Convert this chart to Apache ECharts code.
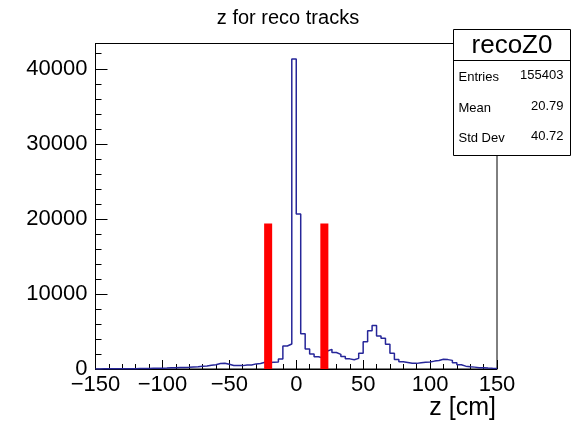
<!DOCTYPE html>
<html>
<head>
<meta charset="utf-8">
<script src="https://cdn.jsdelivr.net/npm/echarts@6/dist/echarts.min.js"></script>
<style>
  html, body { margin: 0; padding: 0; background: #fff; }
  #chart { width: 574px; height: 426px; }
</style>
</head>
<body>
<div id="chart"></div>
<script>
// Histogram of reconstructed track z (90 bins, -150..150 cm)
const binLow = -150;
const binHigh = 150;
const binCounts = [
  15, 20, 20, 25, 30, 30, 35, 40, 45, 55,
  60, 70, 85, 100, 115, 130, 150, 165, 185, 205,
  230, 270, 310, 360, 400, 490, 570, 720, 760, 620,
  470, 450, 450, 520, 530, 680, 720, 890, 870, 900,
  930, 1330, 3070, 3330, 41300, 20650, 4700, 2670, 2000, 1640,
  1470, 2400, 2620, 2200, 1950, 1650, 1350, 1230, 1420, 2090,
  3640, 5110, 5780, 4400, 4090, 3290, 2090, 1250, 970, 870,
  760, 750, 820, 890, 930, 1050, 1120, 1290, 1250, 1150,
  840, 560, 380, 300, 250, 180, 160, 120, 90, 80
];

// Red boxes marking the z window
const boxLow = [-24, 18];
const boxHigh = [-18, 24];
const boxTop = [19400, 19400];

// Axis ranges and ticks
const xMin = -150, xMax = 150, xMajor = 50, xMinor = 10;
const yMin = 0, yMajor = 10000, yMinor = 2000;
const yMax = Math.max(...binCounts) * 1.05;

// Stats box
const statsTitle = 'recoZ0';
const statsNames = ['Entries', 'Mean', 'Std Dev'];
const statsValues = ['155403', '20.79', '40.72'];

const titleText = 'z for reco tracks';
const xTitle = 'z [cm]';

const FONT = '"Liberation Sans", Arial, Helvetica, sans-serif';
const nBins = binCounts.length;
const binWidth = (binHigh - binLow) / nBins;

// Step outline points
const outline = [[binLow, 0]];
binCounts.forEach((v, i) => {
  outline.push([binLow + i * binWidth, v]);
  outline.push([binLow + (i + 1) * binWidth, v]);
});
outline.push([binHigh, 0]);

const boxData = boxLow.map((lo, i) => [lo, boxHigh[i], boxTop[i]]);

const minus = s => String(s).replace('-', '\u2212');

const chart = echarts.init(document.getElementById('chart'), null, { renderer: 'canvas' });

const gridL = 95.5, gridT = 43.5, gridR = 497, gridB = 369;

chart.setOption({
  animation: false,
  backgroundColor: '#ffffff',
  title: {
    text: titleText,
    left: 283,
    top: 3,
    textAlign: 'center',
    textStyle: { fontFamily: FONT, fontSize: 20, fontWeight: 'normal', color: '#000' }
  },
  grid: {
    left: gridL, top: gridT, right: 574 - gridR, bottom: 426 - gridB,
    show: true, borderColor: '#000', borderWidth: 1, backgroundColor: 'transparent'
  },
  xAxis: [
    {
      type: 'value', min: xMin, max: xMax, interval: xMajor, position: 'bottom',
      axisLine: { show: true, onZero: false, lineStyle: { color: '#000', width: 1 } },
      axisTick: { show: true, inside: true, length: 9, lineStyle: { color: '#000', width: 1 } },
      axisLabel: {
        show: true, margin: 5, fontFamily: FONT, fontSize: 22, color: '#000',
        formatter: v => minus(v)
      },
      splitLine: { show: false }
    },
    {
      type: 'value', min: xMin, max: xMax, interval: xMinor, position: 'bottom',
      axisLine: { show: false, onZero: false },
      axisTick: { show: true, inside: true, length: 5, lineStyle: { color: '#000', width: 1 } },
      axisLabel: { show: false },
      splitLine: { show: false }
    }
  ],
  yAxis: [
    {
      type: 'value', min: yMin, max: yMax, interval: yMajor, position: 'left',
      axisLine: { show: true, onZero: false, lineStyle: { color: '#000', width: 1 } },
      axisTick: { show: true, inside: true, length: 12, lineStyle: { color: '#000', width: 1 } },
      axisLabel: {
        show: true, margin: 8, fontFamily: FONT, fontSize: 22, color: '#000',
        showMaxLabel: false,
        formatter: v => (v % yMajor === 0 ? String(v) : '')
      },
      splitLine: { show: false }
    },
    {
      type: 'value', min: yMin, max: yMax, interval: yMinor, position: 'left', offset: 0,
      axisLine: { show: false, onZero: false },
      axisTick: { show: true, inside: true, length: 6, lineStyle: { color: '#000', width: 1 } },
      axisLabel: { show: false },
      splitLine: { show: false }
    }
  ],
  series: [
    {
      type: 'line',
      xAxisIndex: 0, yAxisIndex: 0,
      data: outline,
      showSymbol: false,
      symbol: 'none',
      lineStyle: { color: '#262699', width: 1.5 },
      z: 3
    },
    {
      type: 'custom',
      xAxisIndex: 0, yAxisIndex: 0,
      data: boxData,
      encode: { x: [0, 1], y: 2 },
      renderItem: (params, api) => {
        const p0 = api.coord([api.value(0), 0]);
        const p1 = api.coord([api.value(1), api.value(2)]);
        return {
          type: 'rect',
          shape: { x: p0[0], y: p1[1], width: p1[0] - p0[0], height: p0[1] - p1[1] },
          style: { fill: '#ff0000' }
        };
      },
      z: 4
    }
  ],
  graphic: [
    {
      type: 'text', right: 574 - gridR + 1, top: 396,
      style: { text: xTitle, fontFamily: FONT, fontSize: 25, fill: '#000', textAlign: 'right' }
    },
    {
      type: 'group', left: 451, top: 29, z: 10,
      children: [
        { type: 'rect', shape: { x: 0, y: 0, width: 117, height: 126 },
          style: { fill: '#fff', stroke: '#000', lineWidth: 1 } },
        { type: 'line', shape: { x1: 0, y1: 31, x2: 117, y2: 31 },
          style: { stroke: '#000', lineWidth: 1 } },
        { type: 'text', x: 58.5, y: 16,
          style: { text: statsTitle, fontFamily: FONT, fontSize: 26, fill: '#000',
                   textAlign: 'center', textVerticalAlign: 'middle' } },
        ...statsNames.map((n, i) => ({
          type: 'text', x: 5, y: 48 + i * 30.5,
          style: { text: n, fontFamily: FONT, fontSize: 13, fill: '#000',
                   textAlign: 'left', textVerticalAlign: 'middle' }
        })),
        ...statsValues.map((v, i) => ({
          type: 'text', x: 110, y: 46 + i * 30.5,
          style: { text: v, fontFamily: FONT, fontSize: 13, fill: '#000',
                   textAlign: 'right', textVerticalAlign: 'middle' }
        }))
      ]
    }
  ]
});
</script>
</body>
</html>
